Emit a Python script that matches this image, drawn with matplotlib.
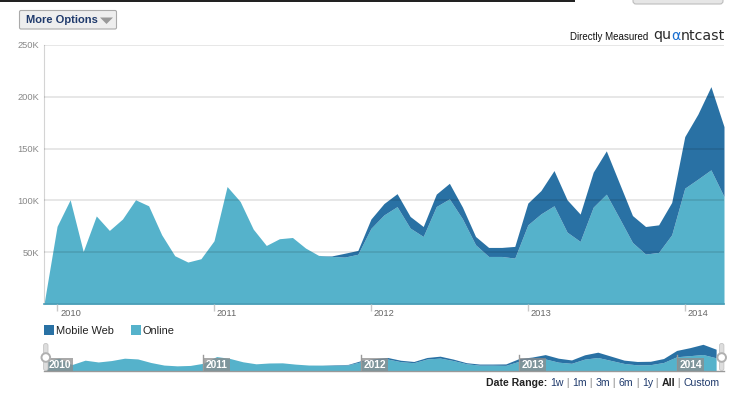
import matplotlib
matplotlib.use("Agg")
import matplotlib.pyplot as plt
from matplotlib.patches import FancyBboxPatch, Rectangle, Polygon, Circle
import numpy as np
import pandas as pd

plt.rcParams['font.family'] = ['Liberation Sans', 'DejaVu Sans']

# ---- data (thousands of people per month) ----
months = pd.date_range("2009-12-01", periods=53, freq="MS")
online = [0, 75, 100.6, 50.7, 85, 71, 82, 100.6, 94.8, 66.8, 46.6, 40.5, 43.7,
          61, 113.4, 99, 72.3, 56.5, 63, 64.2, 54, 46.9, 45.9, 45.3, 48,
          73, 86, 94, 73.3, 65.2, 94.1, 101.5, 82.2, 57.2, 45.9, 45.9, 44.3,
          76.4, 87, 94.8, 69.4, 60.4, 93.5, 106, 82.9, 59.4, 48.2, 49.8, 66.8,
          111.8, 120.5, 129.5, 103.7]
mobile = [0, 0, 0, 0, 0, 0, 0, 0, 0, 0, 0, 0, 0,
          0, 0, 0, 0, 0, 0, 0, 0, 0, 0.5, 3.7, 3.7,
          9, 11, 12.5, 11.2, 9.6, 12, 15, 11.3, 8, 8.7, 8.7, 11.3,
          21, 22.5, 34, 31.2, 26.4, 33.8, 41.8, 33.7, 26, 26.6, 26.6, 31.2,
          49.8, 62.7, 80.3, 67.5]
series_names = ["Mobile Web", "Online"]
y_ticks = [50, 100, 150, 200, 250]
y_tick_labels = ["50K", "100K", "150K", "200K", "250K"]
range_options = ["1w", "1m", "3m", "6m", "1y", "All", "Custom"]

c_online = "#55b2cb"
c_mobile = "#2971a4"

online = np.array(online)
mobile = np.array(mobile)
x = np.arange(len(months))
jan_idx = [i for i, d in enumerate(months) if d.month == 1]
jan_lab = [str(months[i].year) for i in jan_idx]

W, H = 742, 399
fig = plt.figure(figsize=(W / 100, H / 100), dpi=100)
fig.patch.set_facecolor("white")


def rect(l, t, r, b):
    return [l / W, 1 - b / H, (r - l) / W, (b - t) / H]


# ---- main chart ----
ax = fig.add_axes(rect(44, 45, 724, 304))
ax.fill_between(x, 0, online, color=c_online, lw=0)
ax.fill_between(x, online, online + mobile, color=c_mobile, lw=0)
ax.set_xlim(0, len(x) - 1)
ax.set_ylim(0, 250)
ax.set_axisbelow(False)
ax.set_yticks(y_ticks)
ax.set_yticklabels(y_tick_labels)
ax.tick_params(axis="y", length=0, pad=3.5, labelsize=6.7, labelcolor="#888888")
ax.yaxis.grid(True, color="black", alpha=0.12, lw=1.1)
ax.set_xticks(jan_idx)
ax.set_xticklabels([])
ax.tick_params(axis="x", length=5, width=1, color="#c8c8c8", direction="out")
for i, lab in zip(jan_idx, jan_lab):
    ax.annotate(lab, xy=(i, 0), xycoords=("data", "axes fraction"),
                xytext=(3, -9.5), textcoords="offset pixels",
                ha="left", va="center", fontsize=6.7, color="#666666")
for s in ["top", "right"]:
    ax.spines[s].set_visible(False)
ax.spines["left"].set_color("#d4d4d4")
ax.spines["left"].set_linewidth(0.8)
ax.spines["bottom"].set_color("#4a9db6")
ax.spines["bottom"].set_linewidth(1.2)
ax.set_facecolor("white")

# ---- navigator ----
nav = fig.add_axes(rect(44, 343, 724, 371))
xn = x[1:]
nav.fill_between(xn, 0, online[1:], color=c_online, lw=0)
nav.fill_between(xn, online[1:], online[1:] + mobile[1:], color=c_mobile, lw=0)
nav.set_xlim(0.87, 52.6)
nav.set_ylim(0, 220)
nav.set_xticks([])
nav.set_yticks([])
for s in ["top", "right", "left"]:
    nav.spines[s].set_visible(False)
nav.spines["bottom"].set_color("#999999")
nav.spines["bottom"].set_linewidth(1)
for i, lab in zip(jan_idx, jan_lab):
    nav.axvline(i, ymin=0, ymax=0.57, color="#9a9a9a", lw=1)
    nav.annotate(lab, xy=(i, 0), xycoords=("data", "axes fraction"),
                 xytext=(2.5, 1.5), textcoords="offset pixels",
                 ha="left", va="bottom", fontsize=7.4, fontweight="bold", color="white",
                 bbox=dict(boxstyle="square,pad=0.18", fc="#8c8c8c", ec="none", alpha=0.75))

# ---- overlay (decorations in pixel coordinates) ----
ov = fig.add_axes([0, 0, 1, 1], zorder=10)
ov.set_xlim(0, W)
ov.set_ylim(H, 0)
ov.axis("off")
ov.patch.set_alpha(0)

ov.add_patch(Rectangle((0, 0), 575, 2, color="#222222", lw=0))
ov.add_patch(FancyBboxPatch((633, -4), 90, 8, boxstyle="round,pad=0,rounding_size=3",
                            fc="#e6e6e6", ec="#bdbdbd", lw=0.8))

# More Options button
ov.add_patch(FancyBboxPatch((19.5, 10.5), 97, 18.5, boxstyle="round,pad=0,rounding_size=1.5",
                            fc="#eeeeee", ec="#aaaaaa", lw=0.8))
ov.text(26, 20, "More Options", fontsize=8, fontweight="bold", color="#1f3a6c",
        ha="left", va="center")
ov.add_patch(Polygon([(100, 17.5), (113, 17.5), (106.5, 24)], closed=True, color="#999999", lw=0))

# quantcast
ov.text(570, 37, "Directly Measured", fontsize=7, color="#111111", ha="left", va="center")
t1 = ov.text(653, 35.5, "qu", fontsize=10.2, color="#2a2a2a", ha="left", va="center",
             family="DejaVu Sans")
t2 = ov.annotate("α", xy=(1, 0), xycoords=t1, ha="left", va="bottom", fontsize=10.2,
                 color="#1b6fd0", family="DejaVu Sans")
ov.annotate("ntcast", xy=(1, 0), xycoords=t2, ha="left", va="bottom", fontsize=10.2,
            color="#2a2a2a", family="DejaVu Sans")

# legend
ov.add_patch(Rectangle((44, 325), 10, 10, color=c_mobile, lw=0))
ov.text(56, 330.5, series_names[0], fontsize=7.9, color="#222222", ha="left", va="center")
ov.add_patch(Rectangle((131, 325), 9.5, 10, color=c_online, lw=0))
ov.text(142.5, 330.5, series_names[1], fontsize=7.9, color="#222222", ha="left", va="center")

# navigator handles
for hx in (45.8, 721.7):
    ov.add_patch(FancyBboxPatch((hx - 2.2, 343.5), 4.4, 27, boxstyle="round,pad=0,rounding_size=2",
                                fc="#dddddd", ec="#c4c4c4", lw=0.6))
    ov.add_patch(Circle((hx, 357.5), 4.3, fc="white", ec="#b0b0b0", lw=1.4))

# date range selector
fs = 7.6
prev = ov.text(486.5, 383, "Date Range: ", fontsize=fs, fontweight="bold", color="#222222",
               ha="left", va="center")
for k, opt in enumerate(range_options):
    bold = opt == "All"
    prev = ov.annotate(opt, xy=(1, 0), xycoords=prev, ha="left", va="bottom", fontsize=fs,
                       fontweight="bold" if bold else "normal",
                       color="#222222" if bold else "#1f3a6c")
    if k < len(range_options) - 1:
        prev = ov.annotate(" | ", xy=(1, 0), xycoords=prev, ha="left", va="bottom",
                           fontsize=fs, color="#888888")

fig.savefig("out.png", dpi=100, facecolor="white")
